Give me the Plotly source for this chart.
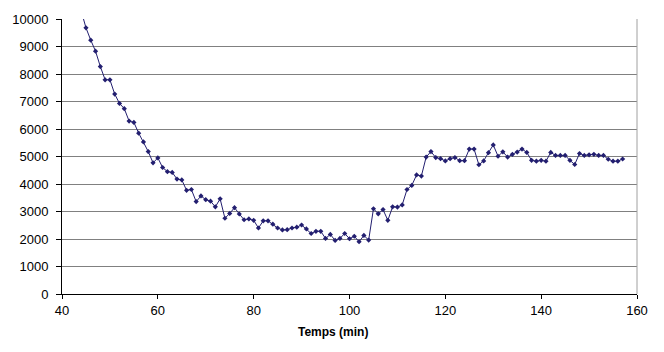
import plotly.graph_objects as go

# Time (min)
temps = list(range(44, 158))
# Measured values
valeurs = [
    10300, 9680, 9230, 8830, 8270, 7790, 7790, 7270, 6930, 6740,
    6290, 6240, 5850, 5530, 5180, 4770, 4950, 4600, 4450, 4420,
    4180, 4150, 3770, 3800, 3360, 3565, 3430, 3375, 3170, 3460,
    2755, 2930, 3140, 2910, 2700, 2730, 2680, 2400, 2660, 2660,
    2540, 2400, 2330, 2340, 2400, 2430, 2510, 2365, 2200, 2280,
    2280, 2020, 2165, 1950, 2020, 2200, 2010, 2100, 1900, 2130,
    1960, 3100, 2915, 3070, 2680, 3170, 3160, 3240, 3800, 3950,
    4330, 4290, 4980, 5180, 4960, 4920, 4840, 4920, 4960, 4850,
    4850, 5270, 5270, 4700, 4840, 5140, 5420, 5010, 5170, 4980,
    5080, 5160, 5270, 5150, 4860, 4830, 4860, 4830, 5150, 5040,
    5040, 5040, 4860, 4710, 5110, 5040, 5060, 5080, 5040, 5040,
    4900, 4830, 4830, 4910,
]

x_ticks = [40, 60, 80, 100, 120, 140, 160]
y_ticks = list(range(0, 10001, 1000))
y_labels = [str(v) for v in y_ticks]
x_title = "Temps (min)"

color = "#231f70"
font = "Liberation Sans, Arial, sans-serif"

L, R, T, B = 61, 27, 14, 58
W, H = 664, 352
plot_w = W - L - R

fig = go.Figure()
fig.add_trace(go.Scatter(
    x=temps, y=valeurs, mode="lines+markers",
    line=dict(color=color, width=1),
    marker=dict(symbol="diamond", size=4, color=color),
    showlegend=False,
))

fig.update_layout(
    width=W, height=H,
    margin=dict(l=L, r=R, t=T, b=B),
    paper_bgcolor="white", plot_bgcolor="white",
    font=dict(family=font, size=13, color="black"),
    xaxis=dict(
        range=[40, 160], tickvals=x_ticks, showgrid=False,
        showline=True, linecolor="black", linewidth=1,
        ticks="outside", ticklen=4, tickcolor="black",
        zeroline=False, tickfont=dict(size=13),
    ),
    yaxis=dict(
        range=[0, 10000], tickvals=y_ticks, ticktext=y_labels, showgrid=True,
        gridcolor="#808080", gridwidth=1,
        showline=True, linecolor="black", linewidth=1,
        ticks="outside", ticklen=5, tickcolor="black",
        ticklabelstandoff=5,
        zeroline=False, tickfont=dict(size=13),
    ),
    shapes=[dict(type="line", xref="paper", yref="paper", x0=1, x1=1, y0=0, y1=1,
                 line=dict(color="#a0a0a0", width=1))],
    annotations=[dict(
        text="<b>" + x_title + "</b>", xref="paper", yref="paper",
        x=(W / 2 - L) / plot_w, y=-(333 - (H - B)) / (H - T - B),
        xanchor="center", yanchor="middle", showarrow=False,
        font=dict(size=12),
    )],
)

fig.write_html("out.html")
